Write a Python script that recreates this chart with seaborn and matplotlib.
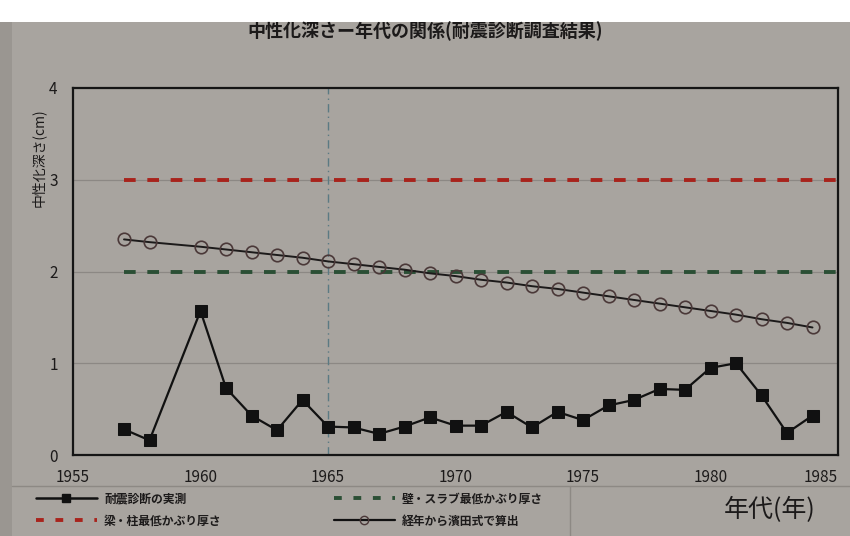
import numpy as np
import pandas as pd
import seaborn as sns
import matplotlib.pyplot as plt
from matplotlib.lines import Line2D
from matplotlib.patches import Rectangle

# measured carbonation depth (cm) from seismic diagnosis
meas_years = [1957, 1958, 1960, 1961, 1962, 1963, 1964, 1965, 1966, 1967, 1968, 1969, 1970,
              1971, 1972, 1973, 1974, 1975, 1976, 1977, 1978, 1979, 1980, 1981, 1982, 1983, 1984]
meas_depth = [0.28, 0.16, 1.57, 0.73, 0.43, 0.27, 0.60, 0.31, 0.30, 0.23, 0.31, 0.41, 0.32,
              0.32, 0.47, 0.30, 0.47, 0.38, 0.54, 0.60, 0.72, 0.71, 0.95, 1.00, 0.65, 0.24, 0.43]

# depth computed from age with Hamada's formula
calc_years = meas_years
calc_depth = [2.35, 2.32, 2.27, 2.24, 2.21, 2.18, 2.15, 2.11, 2.08, 2.05, 2.02, 1.98, 1.95,
              1.91, 1.88, 1.84, 1.81, 1.77, 1.73, 1.69, 1.65, 1.61, 1.57, 1.53, 1.48, 1.44, 1.39]

# minimum cover thickness lines
cover_years = [1957, 1985]
beam_cover = [3.0, 3.0]
wall_cover = [2.0, 2.0]

x_ticks = [1955, 1960, 1965, 1970, 1975, 1980, 1985]
y_ticks = [0, 1, 2, 3, 4]

title = '中性化深さー年代の関係(耐震診断調査結果)'
ylabel = '中性化深さ(cm)'
xlabel = '年代(年)'
labels = ['耐震診断の実測', '梁・柱最低かぶり厚さ', '壁・スラブ最低かぶり厚さ', '経年から濱田式で算出']

bg = '#a8a49f'
ink = '#1c1a1a'
sns.set_theme(style='white')
plt.rcParams['font.family'] = ['Noto Sans CJK JP', 'DejaVu Sans']

fig = plt.figure(figsize=(8.5, 5.36), dpi=100, facecolor=bg)
# white strip of the slide at the top
fig.patches.append(Rectangle((0, 1 - 22 / 536), 1, 22 / 536, transform=fig.transFigure,
                             facecolor='white', edgecolor='none', zorder=0))
fig.patches.append(Rectangle((0, 0), 12 / 850, 1 - 22 / 536, transform=fig.transFigure,
                             facecolor='#9a9691', edgecolor='none', zorder=0))

ax = fig.add_axes([73 / 850, 1 - 455 / 536, 765 / 850, 367 / 536])
ax.set_facecolor(bg)

meas = pd.DataFrame({'year': meas_years, 'depth': meas_depth})
calc = pd.DataFrame({'year': calc_years, 'depth': calc_depth})

for yv in [1, 2, 3]:
    ax.axhline(yv, color='#8c8884', lw=0.9, zorder=1)
ax.axvline(1965, color='#5b7a83', lw=1.0, ls=(0, (6, 3, 1, 3)), zorder=1)

sns.lineplot(x=cover_years, y=beam_cover, ax=ax, color='#a8231c', lw=2.8,
             ls=(0, (3, 3)), zorder=2)
sns.lineplot(x=cover_years, y=wall_cover, ax=ax, color='#2b4f35', lw=2.8,
             ls=(0, (3, 3)), zorder=2)
sns.lineplot(data=calc, x='year', y='depth', ax=ax, color=ink, lw=1.4,
             marker='o', markersize=9, markerfacecolor='none',
             markeredgecolor='#4a3838', markeredgewidth=1.2, zorder=3)
sns.lineplot(data=meas, x='year', y='depth', ax=ax, color='#111111', lw=1.6,
             marker='s', markersize=8.5, markerfacecolor='#111111',
             markeredgecolor='#111111', zorder=4)

ax.set_xlim(1955, 1985)
ax.set_ylim(0, 4)
ax.set_xticks(x_ticks)
ax.set_yticks(y_ticks)
ax.set_xlabel('')
ax.set_ylabel('')
ax.tick_params(axis='both', length=0, labelsize=11, colors=ink)
ax.tick_params(axis='x', pad=10)
ax.tick_params(axis='y', pad=11)
xt = ax.get_xticklabels()
xt[-1].set_horizontalalignment('right')
xt[-1].set_x(1985.4)
for s in ax.spines.values():
    s.set_color('#151515')
    s.set_linewidth(1.6)

fig.text(0.5, 1 - 31 / 536, title, ha='center', va='center', fontsize=13,
         fontweight='bold', color=ink)
fig.text(38 / 850, 1 - 158 / 536, ylabel, rotation=90, ha='center', va='center',
         fontsize=10, color=ink)
fig.text(770 / 850, 1 - 510 / 536, xlabel, ha='center', va='center', fontsize=18,
         color=ink)

# legend frame lines
fig.add_artist(Line2D([12 / 850, 1], [1 - 486 / 536] * 2, color='#8d8984', lw=1.0))
fig.add_artist(Line2D([570 / 850] * 2, [0, 1 - 486 / 536], color='#8d8984', lw=1.0))

handles = [
    Line2D([], [], color='#111111', lw=1.8, marker='s', markersize=6),
    Line2D([], [], color='#a8231c', lw=2.8, ls=(0, (2, 3))),
    Line2D([], [], color='#2b4f35', lw=2.8, ls=(0, (2, 3))),
    Line2D([], [], color='#111111', lw=1.6, marker='o', markersize=6,
           markerfacecolor='none', markeredgecolor='#4a3838'),
]
fig.legend(handles, labels, ncol=2, loc='center left',
           bbox_to_anchor=(25 / 850, 1 - 510 / 536), frameon=False,
           prop={'size': 8.5, 'weight': 'bold'},
           handlelength=5.2, handletextpad=0.6, columnspacing=9.5, labelspacing=0.75,
           labelcolor=ink)

fig.savefig('out.png', dpi=100, facecolor=fig.get_facecolor())
